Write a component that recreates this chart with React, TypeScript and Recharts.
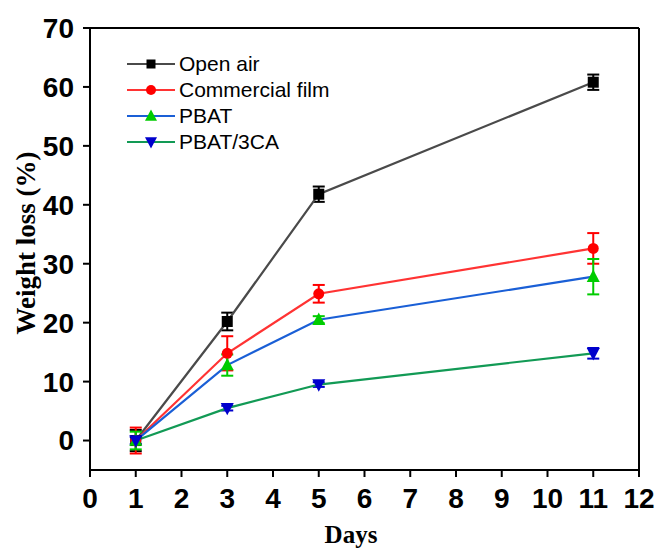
import React from "react";
import { LineChart, Line, XAxis, YAxis, ErrorBar, ReferenceLine } from "recharts";

// measurement days
const days = [1, 3, 5, 11];

// weight loss (%) per sample, with error bars
const openAir = [0, 20.2, 41.8, 60.8];
const openAirErr = [1.8, 1.5, 1.3, 1.3];
const commercialFilm = [0, 14.8, 24.9, 32.6];
const commercialFilmErr = [2.2, 2.9, 1.5, 2.6];
const pbat = [0, 12.8, 20.5, 27.8];
const pbatErr = [1.5, 1.8, 0.6, 3.0];
const pbat3ca = [0, 5.5, 9.5, 14.8];
const pbat3caErr = [0.6, 0.4, 0.4, 0.9];

const xTicks = [0, 1, 2, 3, 4, 5, 6, 7, 8, 9, 10, 11, 12];
const yTicks = [0, 10, 20, 30, 40, 50, 60, 70];

const data = days.map((d, i) => ({
  day: d,
  openAir: openAir[i],
  openAirErr: openAirErr[i],
  commercialFilm: commercialFilm[i],
  commercialFilmErr: commercialFilmErr[i],
  pbat: pbat[i],
  pbatErr: pbatErr[i],
  pbat3ca: pbat3ca[i],
  pbat3caErr: pbat3caErr[i],
}));

type Shape = "square" | "circle" | "up" | "down";

const Marker = ({ shape, cx, cy, color, s }: { shape: Shape; cx: number; cy: number; color: string; s: number }) => {
  if (shape === "square") {
    return <rect x={cx - s / 2} y={cy - s / 2} width={s} height={s} fill={color} />;
  }
  if (shape === "circle") {
    return <circle cx={cx} cy={cy} r={s / 2} fill={color} />;
  }
  if (shape === "up") {
    return <polygon points={`${cx},${cy - s * 0.55} ${cx - s / 2},${cy + s * 0.4} ${cx + s / 2},${cy + s * 0.4}`} fill={color} />;
  }
  return <polygon points={`${cx},${cy + s * 0.55} ${cx - s / 2},${cy - s * 0.4} ${cx + s / 2},${cy - s * 0.4}`} fill={color} />;
};

const series = [
  { key: "openAir", name: "Open air", line: "#4a4a4a", mark: "#000000", shape: "square" as Shape, size: 11 },
  { key: "commercialFilm", name: "Commercial film", line: "#ff3333", mark: "#ff0000", shape: "circle" as Shape, size: 11 },
  { key: "pbat", name: "PBAT", line: "#1a5fd6", mark: "#00cc00", shape: "up" as Shape, size: 13 },
  { key: "pbat3ca", name: "PBAT/3CA", line: "#129a55", mark: "#0000cc", shape: "down" as Shape, size: 13 },
];

const tickStyle = { fontSize: 28, fontWeight: "bold", fill: "#000", fontFamily: "'Liberation Sans', Arial, sans-serif" };

export default function App() {
  return (
    <div style={{ position: "absolute", left: 0, top: 0, width: 655, height: 548, background: "#fff", overflow: "hidden" }}>
      <LineChart width={655} height={548} data={data} margin={{ top: 28, right: 16, left: 0, bottom: 0 }}>
        <XAxis
          dataKey="day"
          type="number"
          domain={[0, 12]}
          ticks={xTicks}
          interval={0}
          height={78}
          tick={tickStyle}
          tickSize={7}
          tickMargin={11}
          stroke="#000"
          strokeWidth={2}
          tickLine={{ stroke: "#000", strokeWidth: 2 }}
          label={() => (
            <text x={351} y={543} textAnchor="middle" fontSize={25} fontWeight="bold" fontFamily="'Liberation Serif', 'Times New Roman', serif" fill="#000">
              Days
            </text>
          )}
        />
        <YAxis
          type="number"
          domain={[-5, 70]}
          ticks={yTicks}
          interval={0}
          width={90}
          tick={tickStyle}
          tickSize={7}
          tickMargin={9}
          stroke="#000"
          strokeWidth={2}
          tickLine={{ stroke: "#000", strokeWidth: 2 }}
          label={() => (
            <text
              x={35}
              y={243}
              transform="rotate(-90 35 243)"
              textAnchor="middle"
              fontSize={27}
              fontWeight="bold"
              fontFamily="'Liberation Serif', 'Times New Roman', serif"
              fill="#000"
            >
              Weight loss (%)
            </text>
          )}
        />
        {/* frame: top and right edges */}
        <ReferenceLine y={70} stroke="#000" strokeWidth={2} />
        <ReferenceLine x={12} stroke="#000" strokeWidth={2} />
        {series.map((s) => (
          <Line
            key={s.key}
            dataKey={s.key}
            name={s.name}
            stroke={s.line}
            strokeWidth={2.2}
            isAnimationActive={false}
            dot={(p: any) => <Marker key={`${s.key}-${p.index}`} shape={s.shape} cx={p.cx} cy={p.cy} color={s.mark} s={s.size} />}
            activeDot={false}
          >
            <ErrorBar dataKey={`${s.key}Err`} width={6} strokeWidth={2} stroke={s.mark} direction="y" />
          </Line>
        ))}
      </LineChart>
      <div style={{ position: "absolute", left: 125, top: 51, fontFamily: "'Liberation Sans', Arial, sans-serif", fontSize: 21, color: "#000" }}>
        {series.map((s) => (
          <div key={s.key} style={{ display: "flex", alignItems: "center", height: 26 }}>
            <svg width={54} height={26}>
              <line x1={2} y1={13} x2={50} y2={13} stroke={s.line} strokeWidth={2} />
              <Marker shape={s.shape} cx={26} cy={13} color={s.mark} s={s.shape === "square" ? 9 : s.shape === "circle" ? 10 : 12} />
            </svg>
            <span style={{ lineHeight: "26px", whiteSpace: "nowrap" }}>{s.name}</span>
          </div>
        ))}
      </div>
    </div>
  );
}
